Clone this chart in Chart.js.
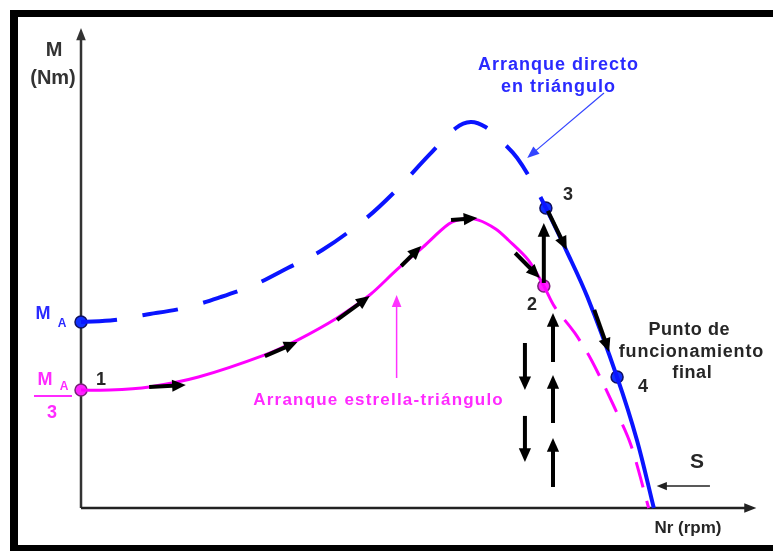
<!DOCTYPE html>
<html>
<head>
<meta charset="utf-8">
<script src="https://cdn.jsdelivr.net/npm/chart.js@4"></script>
<style>
  body { margin: 0; background: #fff; }
  canvas { display: block; }
</style>
</head>
<body>
<canvas id="arranque" width="773" height="551"></canvas>
<script>
// speed Nr in % of synchronous speed, torque M in % of M_A
var directoX = [0, 5.87, 11.05, 17.96, 24.35, 30.56, 36.09, 42.13, 49.39, 54.57, 60.78, 65.45, 68.04, 70.63, 73.22, 76.15, 79.26, 81.16, 84.8, 88.41, 93.59, 97.05, 100];
var directoY = [100, 101.1, 103.8, 107.5, 113.4, 120.4, 129.0, 138.7, 154.8, 169.4, 189.8, 204.3, 207.5, 204.8, 197.8, 188.2, 172.6, 161.3, 138.0, 113.4, 70.4, 36.6, 0];
var estrellaX = [0, 5.0, 11.9, 20.5, 32.1, 37.8, 44.7, 50.4, 55.1, 59.7, 64.2, 66.7, 69.4, 72.4, 74.6, 78.1, 80.8, 82.7, 86.2, 89.1, 93.1, 96.0, 99.1];
var estrellaY = [63.4, 63.4, 65.1, 70.4, 82.3, 90.3, 102.2, 114.5, 128.0, 140.3, 152.7, 155.4, 154.8, 150.0, 144.1, 133.3, 119.4, 108.1, 94.1, 79.6, 54.3, 33.9, 0];

// numbered points 1..4
var puntosAzulX = [0, 81.16, 93.59];
var puntosAzulY = [100, 161.3, 70.4];
var puntosRosaX = [0, 80.8];
var puntosRosaY = [63.4, 119.4];
var x2 = 80.8, x3 = 81.16;

// direction arrows [x1, y1, x2, y2]
var flechas = [
  [11.9, 65.1, 18.3, 66.1],
  [32.1, 81.7, 37.8, 89.2],
  [44.7, 101.1, 50.4, 114.0],
  [55.9, 130.1, 59.4, 140.9],
  [64.6, 154.8, 69.2, 155.9],
  [75.8, 137.1, 80.1, 123.7],
  [80.8, 121.0, 80.8, 153.2],
  [81.5, 159.7, 84.8, 138.7],
  [89.6, 106.5, 92.2, 83.9],
  [77.5, 88.7, 77.5, 63.4],
  [77.5, 49.5, 77.5, 24.7],
  [82.4, 11.3, 82.4, 37.6],
  [82.4, 45.7, 82.4, 71.5],
  [82.4, 78.5, 82.4, 104.8]
];

function pts(xs, ys) {
  return xs.map(function(x, i) { return { x: x, y: ys[i] }; });
}

function arrow(ctx, x1, y1, x2, y2, head, width, color, spread) {
  var a = Math.atan2(y2 - y1, x2 - x1);
  var s = spread || 0.38;
  ctx.strokeStyle = color;
  ctx.fillStyle = color;
  ctx.lineWidth = width;
  ctx.beginPath();
  ctx.moveTo(x1, y1);
  ctx.lineTo(x2 - Math.cos(a) * head * 0.6, y2 - Math.sin(a) * head * 0.6);
  ctx.stroke();
  ctx.beginPath();
  ctx.moveTo(x2, y2);
  ctx.lineTo(x2 - head * Math.cos(a - s), y2 - head * Math.sin(a - s));
  ctx.lineTo(x2 - head * Math.cos(a + s), y2 - head * Math.sin(a + s));
  ctx.closePath();
  ctx.fill();
}

var decor = {
  id: 'decor',
  beforeDraw: function(chart) {
    var ctx = chart.ctx;
    ctx.save();
    ctx.fillStyle = '#fff';
    ctx.fillRect(0, 0, chart.width, chart.height);
    // frame
    ctx.fillStyle = '#000';
    ctx.fillRect(10, 10, 763, 7);
    ctx.fillRect(10, 10, 8, 541);
    ctx.fillRect(10, 545, 763, 6);
    // axes
    var sx = chart.scales.x, sy = chart.scales.y;
    var x0 = sx.getPixelForValue(0), y0 = sy.getPixelForValue(0);
    arrow(ctx, x0, y0, x0, sy.getPixelForValue(258), 13, 2.5, '#333');
    arrow(ctx, x0, y0, sx.getPixelForValue(117.9), y0, 13, 2.5, '#222');
    ctx.restore();
  },
  afterDatasetsDraw: function(chart) {
    var ctx = chart.ctx;
    var sx = chart.scales.x, sy = chart.scales.y;
    function px(v) { return sx.getPixelForValue(v); }
    function py(v) { return sy.getPixelForValue(v); }
    ctx.save();
    flechas.forEach(function(f) {
      arrow(ctx, px(f[0]), py(f[1]), px(f[2]), py(f[3]), 15, 4, '#000', 0.42);
    });
    arrow(ctx, px(109.8), py(11.8), px(100.5), py(11.8), 11, 1.5, '#222');
    arrow(ctx, px(91.3), py(223.1), px(77.9), py(188.2), 13, 1.2, '#3344ff');
    arrow(ctx, px(55.1), py(69.9), px(55.1), py(114.5), 13, 1.5, '#ff33ff');

    ctx.textAlign = 'center';
    ctx.textBaseline = 'alphabetic';
    function txt(s, x, y, size, color, sp) {
      ctx.font = 'bold ' + size + 'px "Liberation Sans", Arial, sans-serif';
      ctx.letterSpacing = (sp || 0) + 'px';
      ctx.fillStyle = color;
      ctx.fillText(s, x + (sp || 0) / 2, y);
    }
    var azul = '#2a2aff', rosa = '#ff2aff', negro = '#262626';
    txt('M', 54, 56, 20, '#333');
    txt('(Nm)', 53, 84, 20, '#333');
    txt('M', 43, 319, 18, azul);
    txt('A', 62, 327, 12, azul);
    txt('M', 45, 385, 18, rosa);
    txt('A', 64, 390, 12, rosa);
    ctx.fillStyle = rosa;
    ctx.fillRect(34, 395, 38, 2);
    txt('3', 52, 418, 18, rosa);
    txt('1', 101, 385, 18, negro);
    txt('2', 532, 310, 18, negro);
    txt('3', 568, 200, 18, negro);
    txt('4', 643, 392, 18, negro);
    txt('Arranque directo', 558, 70, 18, azul, 1);
    txt('en triángulo', 558, 92, 18, azul, 1);
    txt('Arranque estrella-triángulo', 378, 405, 17, rosa, 1.2);
    txt('Punto de', 689, 335, 18, negro, 0.6);
    txt('funcionamiento', 691, 357, 18, negro, 0.8);
    txt('final', 692, 378, 18, negro, 0.6);
    txt('S', 697, 468, 21, negro);
    txt('Nr (rpm)', 688, 533, 17, negro);
    ctx.restore();
  }
};

new Chart(document.getElementById('arranque').getContext('2d'), {
  type: 'scatter',
  data: {
    datasets: [
      {
        label: 'Arranque estrella-triángulo',
        data: pts(estrellaX, estrellaY),
        showLine: true,
        borderColor: '#ff00ff',
        borderWidth: 3,
        pointRadius: 0,
        tension: 0.3,
        clip: false,
        segment: {
          borderDash: function(c) { return c.p0.parsed.x >= x2 ? [26, 14] : undefined; }
        }
      },
      {
        label: 'Arranque directo en triángulo',
        data: pts(directoX, directoY),
        showLine: true,
        borderColor: '#0a14ff',
        borderWidth: 4,
        pointRadius: 0,
        tension: 0.35,
        clip: false,
        segment: {
          borderDash: function(c) { return c.p1.parsed.x <= x3 ? [36, 26] : undefined; }
        }
      },
      {
        label: 'puntos rosa',
        data: pts(puntosRosaX, puntosRosaY),
        pointRadius: 6,
        pointBackgroundColor: '#ff22ff',
        pointBorderColor: '#772277',
        pointBorderWidth: 1.5,
        clip: false
      },
      {
        label: 'puntos azul',
        data: pts(puntosAzulX, puntosAzulY),
        pointRadius: 6,
        pointBackgroundColor: '#1030ff',
        pointBorderColor: '#101060',
        pointBorderWidth: 1.5,
        clip: false
      }
    ]
  },
  options: {
    responsive: false,
    animation: false,
    layout: { padding: { left: 81, right: 0, top: 24.4, bottom: 43 } },
    scales: {
      x: { type: 'linear', min: 0, max: 119.5, display: false },
      y: { type: 'linear', min: 0, max: 260, display: false }
    },
    plugins: {
      legend: { display: false },
      tooltip: { enabled: false }
    }
  },
  plugins: [decor]
});
</script>
</body>
</html>
